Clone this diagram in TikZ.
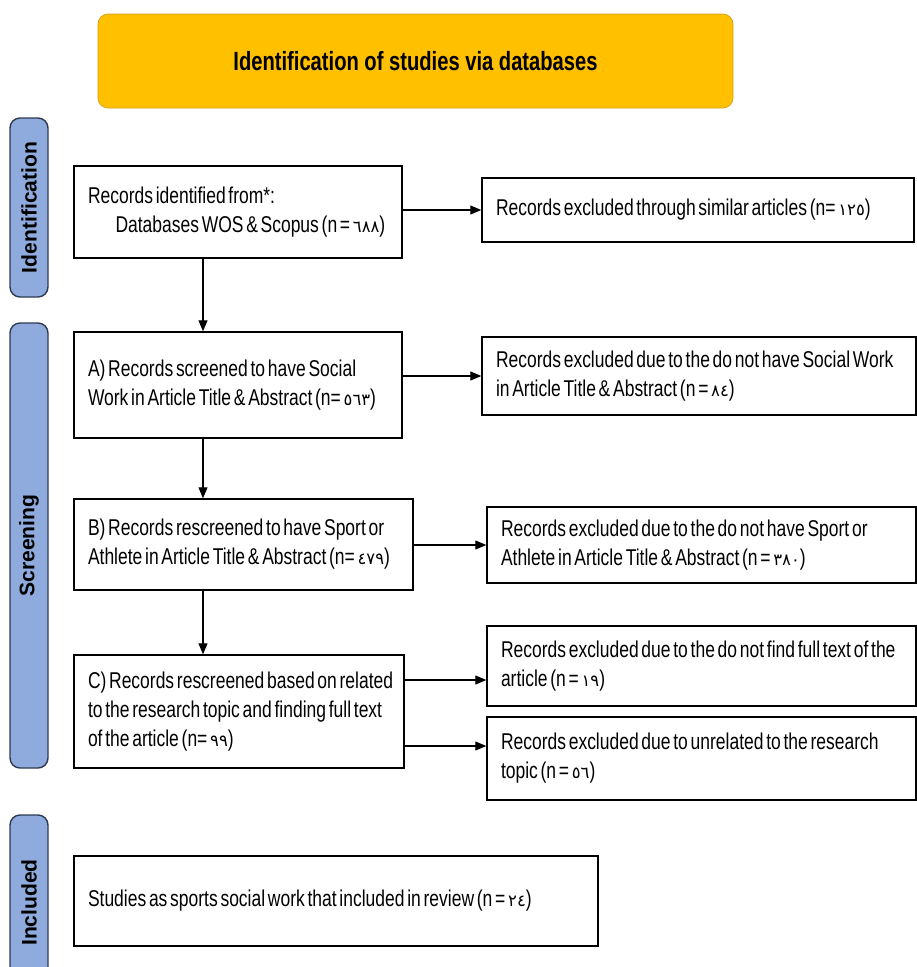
\documentclass[tikz,border=0pt]{standalone}
\usepackage{fontspec}
\setmainfont{Liberation Sans}[FakeStretch=0.765]
\newfontfamily\phasefont{Liberation Sans}
\newfontfamily\arabicfont{DejaVu Sans}[Scale=0.72]
\newcommand{\ardig}[1]{{\arabicfont #1}}
\newcommand{\tightwords}{\spaceskip=0.12em plus 0.04em minus 0.02em\relax}
\usetikzlibrary{arrows.meta}
\definecolor{titlegold}{HTML}{FFC000}
\definecolor{titleedge}{HTML}{D4A017}
\definecolor{phaseblue}{HTML}{8FAADC}
\definecolor{phaseedge}{HTML}{2E3A50}
\tikzset{
  every node/.append style={font=\fontsize{13}{16.5}\selectfont},
  box/.style={draw, line width=0.8pt, inner xsep=0.28cm, align=left, execute at begin node=\tightwords},
  phase/.style={draw=phaseedge, fill=phaseblue, line width=0.8pt, rounded corners=0.2cm,
    rotate=90, minimum height=0.76cm, font=\phasefont\fontsize{12}{14}\selectfont\bfseries},
  flow/.style={-{Triangle[length=2.2mm,width=1.8mm]}, line width=0.6pt}
}

\begin{document}
\begin{tikzpicture}
  \useasboundingbox (0,0) rectangle (18.32,-19.34);

  \node[draw=titleedge, fill=titlegold, rounded corners=0.2cm, minimum width=12.7cm, minimum height=1.88cm,
    font=\fontsize{15}{17}\selectfont\bfseries] (title) at (8.31,-1.22) {Identification of studies via databases};

  \node[phase, minimum width=3.58cm] (identification) at (0.58,-4.15) {Identification};
  \node[phase, minimum width=8.9cm] (screening) at (0.58,-10.91) {Screening};
  \node[phase, minimum width=3.5cm] (included) at (0.58,-18.05) {Included};

  \node[box, text width=6.0cm, minimum height=1.84cm] (identified) at (4.76,-4.24)
    {Records identified from*:\\\hspace*{0.55cm}Databases WOS \& Scopus (n = \ardig{٦٨٨})};
  \node[box, text width=8.08cm, minimum height=1.28cm] (similar) at (13.96,-4.2)
    {Records excluded through similar articles (n= \ardig{١٢٥})};

  \node[box, text width=6.0cm, minimum height=2.12cm] (screenA) at (4.76,-7.7)
    {A) Records screened to have Social\\Work in Article Title \& Abstract (n= \ardig{٥٦٣})};
  \node[box, text width=8.12cm, minimum height=1.56cm] (exclA) at (13.98,-7.52)
    {Records excluded due to the do not have Social Work\\in Article Title \& Abstract (n = \ardig{٨٤})};

  \node[box, text width=6.22cm, minimum height=1.82cm] (screenB) at (4.87,-10.89)
    {B) Records rescreened to have Sport or\\Athlete in Article Title \& Abstract (n= \ardig{٤٧٩})};
  \node[box, text width=8.02cm, minimum height=1.52cm] (exclB) at (14.03,-10.9)
    {Records excluded due to the do not have Sport or\\Athlete in Article Title \& Abstract (n = \ardig{٣٨٠})};

  \node[box, text width=6.04cm, minimum height=2.26cm] (screenC) at (4.78,-14.23)
    {\mbox{C) Records rescreened based on related}\\to the research topic and finding full text\\of the article (n= \ardig{٩٩})};
  \node[box, text width=8.02cm, minimum height=1.6cm] (exclFull) at (14.03,-13.32)
    {Records excluded due to the do not find full text of the\\article (n = \ardig{١٩})};
  \node[box, text width=8.02cm, minimum height=1.66cm] (exclTopic) at (14.03,-15.17)
    {Records excluded due to unrelated to the research\\topic (n = \ardig{٥٦})};

  \node[box, text width=9.92cm, minimum height=1.8cm] (studies) at (6.72,-18.02)
    {Studies as sports social work that included in review (n = \ardig{٢٤})};

  \coordinate (down1) at ([xshift=-0.7cm]identified.south);
  \coordinate (down2) at ([xshift=-0.7cm]screenA.south);
  \coordinate (down3) at ([xshift=-0.81cm]screenB.south);
  \coordinate (fullout) at ([yshift=0.63cm]screenC.east);
  \coordinate (topicout) at ([yshift=-0.69cm]screenC.east);

  \draw[flow] (identified.east |- similar.west) -- (similar.west);
  \draw[flow] (screenA.east |- exclA.west) -- (exclA.west);
  \draw[flow] (screenB.east |- exclB.west) -- (exclB.west);
  \draw[flow] (fullout) -- (fullout -| exclFull.west);
  \draw[flow] (topicout) -- (topicout -| exclTopic.west);

  \draw[flow] (down1) -- (down1 |- screenA.north);
  \draw[flow] (down2) -- (down2 |- screenB.north);
  \draw[flow] (down3) -- (down3 |- screenC.north);
\end{tikzpicture}
\end{document}
